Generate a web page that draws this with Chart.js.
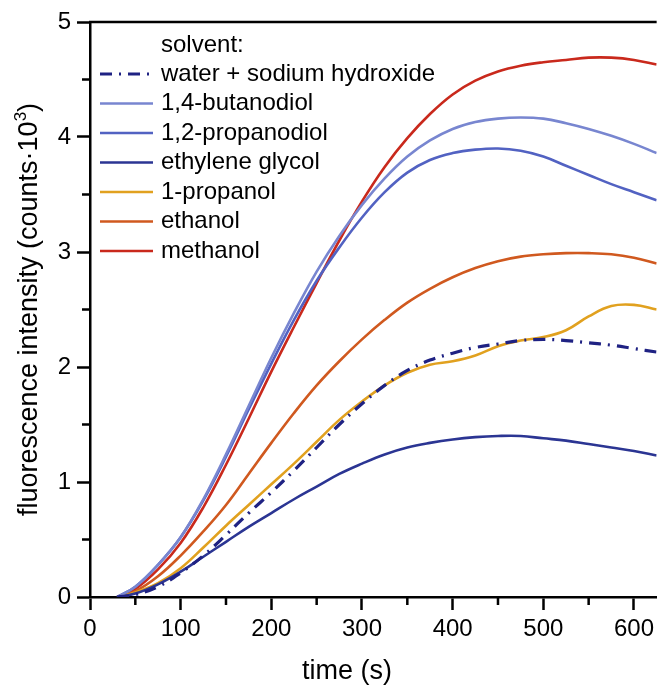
<!DOCTYPE html>
<html>
<head>
<meta charset="utf-8">
<script src="https://cdn.jsdelivr.net/npm/chart.js@4.4.1/dist/chart.umd.min.js"></script>
<style>
  html, body { margin: 0; padding: 0; background: #fff; }
</style>
</head>
<body>
<canvas id="fluoChart" width="659" height="690"></canvas>
<script>
// time axis (s)
const timeS = [30, 50, 75, 100, 125, 150, 175, 200, 225, 250, 275, 300, 325,
  350, 375, 400, 425, 450, 475, 500, 525, 550, 575, 600, 625];

// fluorescence intensity (counts x 10^3)
const waterNaOH = [0, 0.02, 0.09, 0.21, 0.36, 0.54, 0.73, 0.91, 1.10, 1.30, 1.50, 1.68, 1.84,
  1.97, 2.06, 2.12, 2.17, 2.20, 2.23, 2.24, 2.23, 2.21, 2.19, 2.16, 2.13];
const butanediol14 = [0, 0.09, 0.28, 0.52, 0.85, 1.24, 1.66, 2.08, 2.47, 2.83, 3.14, 3.41, 3.64,
  3.83, 3.97, 4.07, 4.13, 4.16, 4.17, 4.16, 4.12, 4.07, 4.01, 3.94, 3.86];
const propanediol12 = [0, 0.09, 0.28, 0.52, 0.84, 1.22, 1.63, 2.03, 2.41, 2.75, 3.04, 3.30, 3.52,
  3.69, 3.80, 3.86, 3.89, 3.90, 3.88, 3.83, 3.75, 3.67, 3.59, 3.52, 3.45];
const ethyleneGlycol = [0, 0.03, 0.11, 0.22, 0.35, 0.48, 0.61, 0.73, 0.85, 0.96, 1.07, 1.16, 1.24,
  1.30, 1.34, 1.37, 1.39, 1.40, 1.40, 1.38, 1.36, 1.33, 1.30, 1.27, 1.23];
const propanol1 = [0, 0.04, 0.12, 0.25, 0.43, 0.62, 0.80, 0.98, 1.16, 1.35, 1.54, 1.70, 1.84,
  1.95, 2.02, 2.05, 2.10, 2.18, 2.23, 2.26, 2.32, 2.44, 2.53, 2.54, 2.50];
const ethanol = [0, 0.05, 0.18, 0.36, 0.57, 0.80, 1.07, 1.34, 1.60, 1.84, 2.05, 2.24, 2.41,
  2.56, 2.68, 2.78, 2.86, 2.92, 2.96, 2.98, 2.99, 2.99, 2.98, 2.95, 2.90];
const methanol = [0, 0.07, 0.24, 0.47, 0.78, 1.15, 1.55, 1.96, 2.35, 2.73, 3.10, 3.44, 3.74,
  3.99, 4.20, 4.37, 4.49, 4.57, 4.62, 4.65, 4.67, 4.69, 4.69, 4.67, 4.63];

const seriesNames = ['water + sodium hydroxide', '1,4-butanodiol', '1,2-propanodiol',
  'ethylene glycol', '1-propanol', 'ethanol', 'methanol'];
const seriesColors = ['#1f2283', '#7886d0', '#5262c2', '#2b3593', '#e1a11f', '#d0591f', '#c9291c'];
const seriesValues = [waterNaOH, butanediol14, propanediol12, ethyleneGlycol, propanol1, ethanol, methanol];

const FONT = 'Arial, "Liberation Sans", sans-serif';

const datasets = seriesNames.map((name, i) => ({
  label: name,
  data: timeS.map((t, j) => ({ x: t, y: seriesValues[i][j] })),
  borderColor: seriesColors[i],
  borderWidth: i === 0 ? 3.2 : 2.6,
  borderDash: i === 0 ? [12, 7, 2, 7] : [],
  pointRadius: 0,
  tension: 0.4,
  fill: false
}));

// extra drawing: minor ticks, top frame, titles, legend
const decorations = {
  id: 'decorations',
  afterDraw(chart) {
    const { ctx, chartArea: a, scales } = chart;
    ctx.save();
    ctx.strokeStyle = '#000';
    ctx.lineWidth = 2.5;
    ctx.beginPath();
    ctx.moveTo(a.left - 1, a.top);
    ctx.lineTo(a.right, a.top);
    // minor ticks
    for (let v = 0.5; v < 5; v += 1) {
      const y = scales.y.getPixelForValue(v);
      ctx.moveTo(a.left - 8, y);
      ctx.lineTo(a.left, y);
    }
    for (let v = 50; v < 625; v += 100) {
      const x = scales.x.getPixelForValue(v);
      ctx.moveTo(x, a.bottom);
      ctx.lineTo(x, a.bottom + 8);
    }
    ctx.stroke();

    ctx.fillStyle = '#000';
    ctx.font = '27px ' + FONT;
    ctx.textAlign = 'center';
    ctx.textBaseline = 'middle';
    ctx.fillText('time (s)', 347, 672);

    // y title with superscript 3
    ctx.save();
    ctx.translate(30, (a.top + a.bottom) / 2);
    ctx.rotate(-Math.PI / 2);
    ctx.textAlign = 'left';
    const p1 = 'fluorescence intensity (counts\u00b710';
    const p2 = '3';
    const p3 = ')';
    ctx.font = '27px ' + FONT;
    const w1 = ctx.measureText(p1).width;
    const w3 = ctx.measureText(p3).width;
    ctx.font = '17px ' + FONT;
    const w2 = ctx.measureText(p2).width;
    let x0 = -(w1 + w2 + w3) / 2;
    ctx.font = '27px ' + FONT;
    ctx.fillText(p1, x0, 0);
    ctx.font = '17px ' + FONT;
    ctx.fillText(p2, x0 + w1, -9);
    ctx.font = '27px ' + FONT;
    ctx.fillText(p3, x0 + w1 + w2, 0);
    ctx.restore();

    // legend
    ctx.font = '24px ' + FONT;
    ctx.textAlign = 'left';
    ctx.fillText('solvent:', 161, 45);
    chart.data.datasets.forEach((ds, i) => {
      const y = 74 + i * 29.5;
      ctx.strokeStyle = ds.borderColor;
      ctx.lineWidth = ds.borderWidth;
      ctx.setLineDash(ds.borderDash);
      ctx.beginPath();
      ctx.moveTo(100, y);
      ctx.lineTo(153, y);
      ctx.stroke();
      ctx.setLineDash([]);
      ctx.fillText(ds.label, 161, y);
    });
    ctx.restore();
  }
};

new Chart(document.getElementById('fluoChart'), {
  type: 'line',
  data: { datasets },
  plugins: [decorations],
  options: {
    responsive: false,
    animation: false,
    devicePixelRatio: 1,
    layout: { padding: { top: 22, right: 0, left: 0, bottom: 0 } },
    plugins: { legend: { display: false }, tooltip: { enabled: false } },
    scales: {
      x: {
        type: 'linear',
        min: 0,
        max: 625,
        afterFit: (s) => { s.height = 93; },
        ticks: { stepSize: 100, includeBounds: false, padding: 5, color: '#000', maxRotation: 0,
          font: { family: FONT, size: 24 } },
        grid: { drawOnChartArea: false, tickLength: 13, tickColor: '#000', tickWidth: 2.5 },
        border: { color: '#000', width: 2.5 }
      },
      y: {
        min: 0,
        max: 5,
        afterFit: (s) => { s.width = 90; },
        ticks: { stepSize: 1, includeBounds: false, padding: 6, color: '#000',
          font: { family: FONT, size: 24 } },
        grid: { drawOnChartArea: false, tickLength: 13, tickColor: '#000', tickWidth: 2.5 },
        border: { color: '#000', width: 2.5 }
      }
    }
  }
});
</script>
</body>
</html>
